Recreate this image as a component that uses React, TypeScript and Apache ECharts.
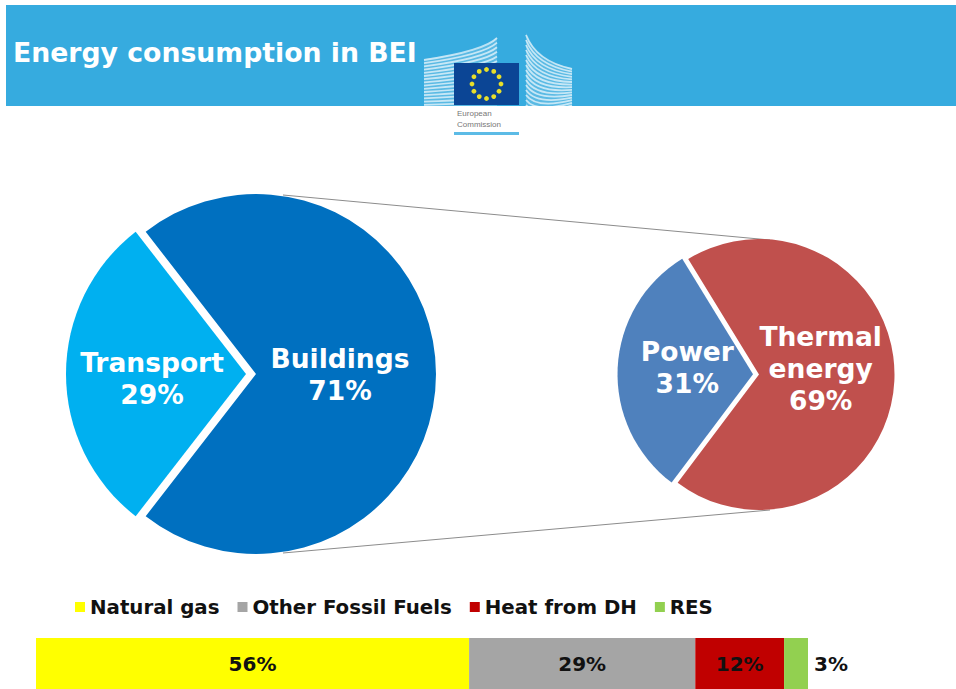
import React, { useEffect, useRef } from "react";
import * as echarts from "echarts";

const titleText = "Energy consumption in BEI";
const sectorNames = ["Buildings", "Transport"];
const sectorValues = [71, 29];
const buildingNames = ["Thermal\nenergy", "Power"];
const buildingValues = [69, 31];
const fuelNames = ["Natural gas", "Other Fossil Fuels", "Heat from DH", "RES"];
const fuelValues = [56.1, 29.3, 11.5, 3.1];
const sectorColors = ["#0070C0", "#00B0F0"];
const buildingColors = ["#C0504D", "#4F81BD"];
const fuelColors = ["#FFFF00", "#A5A5A5", "#C00000", "#92D050"];
const sectorLabelOffsets = [[-9, 0], [-1, 4]];
const buildingLabelOffsets = [[-9, -9], [5, -3]];

const FONT = "'DejaVu Sans', Verdana, sans-serif";

function logoGraphics(): any[] {
  const out: any[] = [];
  out.push({
    type: "polygon",
    shape: { points: [[424, 59], [470, 52], [488, 45], [497, 37], [497, 106], [424, 106]] },
    style: { fill: "rgba(255,255,255,0.18)" },
  });
  out.push({
    type: "polygon",
    shape: { points: [[526, 33], [535, 50], [550, 62], [572, 68], [572, 106], [526, 106]] },
    style: { fill: "rgba(255,255,255,0.18)" },
  });
  // left wing of the Berlaymont
  for (let i = 0; i < 15; i++) {
    const y0 = 60 + i * 3.2;
    const y1 = 38 + i * 4.6;
    out.push({
      type: "bezierCurve",
      shape: { x1: 424, y1: y0, x2: 497, y2: Math.min(y1, 105), cpx1: 484, cpy1: y0 - 9 + i * 0.5 },
      style: { stroke: "rgba(255,255,255,0.66)", lineWidth: 1.8, fill: "none" },
    });
  }
  // right wing
  for (let i = 0; i < 15; i++) {
    const y0 = 35 + i * 5;
    const y1 = 69 + i * 2.6;
    out.push({
      type: "bezierCurve",
      shape: { x1: 526, y1: Math.min(y0, 105), x2: 572, y2: y1, cpx1: 536, cpy1: y0 + 26 - i },
      style: { stroke: "rgba(255,255,255,0.66)", lineWidth: 1.8, fill: "none" },
    });
  }
  out.push({ type: "rect", shape: { x: 454, y: 63, width: 65, height: 42 }, style: { fill: "#0B4595" } });
  for (let i = 0; i < 12; i++) {
    const a = (i * Math.PI) / 6;
    out.push({
      type: "circle",
      shape: { cx: 486.5 + 14.5 * Math.cos(a), cy: 84 + 14.5 * Math.sin(a), r: 2.4 },
      style: { fill: "#E8DF2A" },
    });
  }
  out.push({ type: "rect", shape: { x: 454, y: 132, width: 65, height: 3 }, style: { fill: "#5CBBE6" } });
  out.push({
    type: "text",
    x: 457,
    y: 109,
    style: { text: "European", fill: "#777777", fontSize: 8, fontFamily: "'Liberation Sans', sans-serif" },
  });
  out.push({
    type: "text",
    x: 457,
    y: 120,
    style: { text: "Commission", fill: "#777777", fontSize: 8, fontFamily: "'Liberation Sans', sans-serif" },
  });
  return out;
}

const pieLabel = {
  show: true,
  position: "inside" as const,
  formatter: "{b}\n{c}%",
  color: "#FFFFFF",
  fontFamily: FONT,
  fontWeight: "bold" as const,
  fontSize: 26.5,
  lineHeight: 32,
};

export default function App() {
  const ref = useRef<HTMLDivElement>(null);
  useEffect(() => {
    const chart = echarts.init(ref.current!, undefined, { renderer: "svg" });
    chart.setOption({
      animation: false,
      backgroundColor: "#FFFFFF",
      title: {
        text: titleText,
        left: 13,
        top: 39,
        padding: 0,
        textStyle: { color: "#FFFFFF", fontFamily: FONT, fontWeight: "bold", fontSize: 26.7 },
        z: 10,
      },
      legend: {
        data: fuelNames,
        left: 75,
        top: 597,
        padding: 0,
        icon: "rect",
        itemWidth: 10,
        itemHeight: 10,
        itemGap: 18,
        selectedMode: false,
        textStyle: { color: "#111111", fontFamily: FONT, fontWeight: "bold", fontSize: 19.8, padding: [0, 0, 0, 0] },
      },
      grid: { left: 36, top: 638, width: 772, height: 51, containLabel: false },
      xAxis: { type: "value", min: 0, max: 100, show: false },
      yAxis: { type: "category", data: ["share"], show: false },
      graphic: [
        { type: "rect", z: -1, shape: { x: 6, y: 5, width: 950, height: 101 }, style: { fill: "#36ABDF" } },
        { type: "line", shape: { x1: 283, y1: 195, x2: 770, y2: 240 }, style: { stroke: "#8C8C8C", lineWidth: 1 } },
        { type: "line", shape: { x1: 283, y1: 553, x2: 770, y2: 510 }, style: { stroke: "#8C8C8C", lineWidth: 1 } },
        ...logoGraphics(),
      ],
      series: [
        {
          type: "pie",
          center: [256, 374],
          radius: [0, 180],
          startAngle: 127.8,
          clockwise: true,
          selectedMode: "multiple",
          selectedOffset: 10,
          label: pieLabel,
          labelLine: { show: false },
          emphasis: { disabled: true },
          data: sectorNames.map((name, i) => ({
            name,
            value: sectorValues[i],
            selected: i === 1,
            itemStyle: { color: sectorColors[i] },
            label: { offset: sectorLabelOffsets[i] },
            select: { label: { offset: sectorLabelOffsets[i] } },
          })),
        },
        {
          type: "pie",
          center: [759, 374.5],
          radius: [0, 135.5],
          startAngle: 121.5,
          clockwise: true,
          selectedMode: "multiple",
          selectedOffset: 6,
          label: pieLabel,
          labelLine: { show: false },
          emphasis: { disabled: true },
          data: buildingNames.map((name, i) => ({
            name,
            value: buildingValues[i],
            selected: i === 1,
            itemStyle: { color: buildingColors[i] },
            label: { offset: buildingLabelOffsets[i] },
            select: { label: { offset: buildingLabelOffsets[i] } },
          })),
        },
        ...fuelNames.map((name, i) => ({
          type: "bar",
          name,
          stack: "fuel",
          barWidth: "100%",
          itemStyle: { color: fuelColors[i] },
          label: {
            show: true,
            position: i === fuelNames.length - 1 ? "right" : "inside",
            distance: 6,
            formatter: (p: any) => `${Math.round(p.value)}%`,
            color: "#111111",
            fontFamily: FONT,
            fontWeight: "bold",
            fontSize: 20,
          },
          emphasis: { disabled: true },
          data: [fuelValues[i]],
        })),
      ],
    });
    return () => chart.dispose();
  }, []);
  return <div ref={ref} style={{ position: "fixed", left: 0, top: 0, width: 956, height: 689 }} />;
}
